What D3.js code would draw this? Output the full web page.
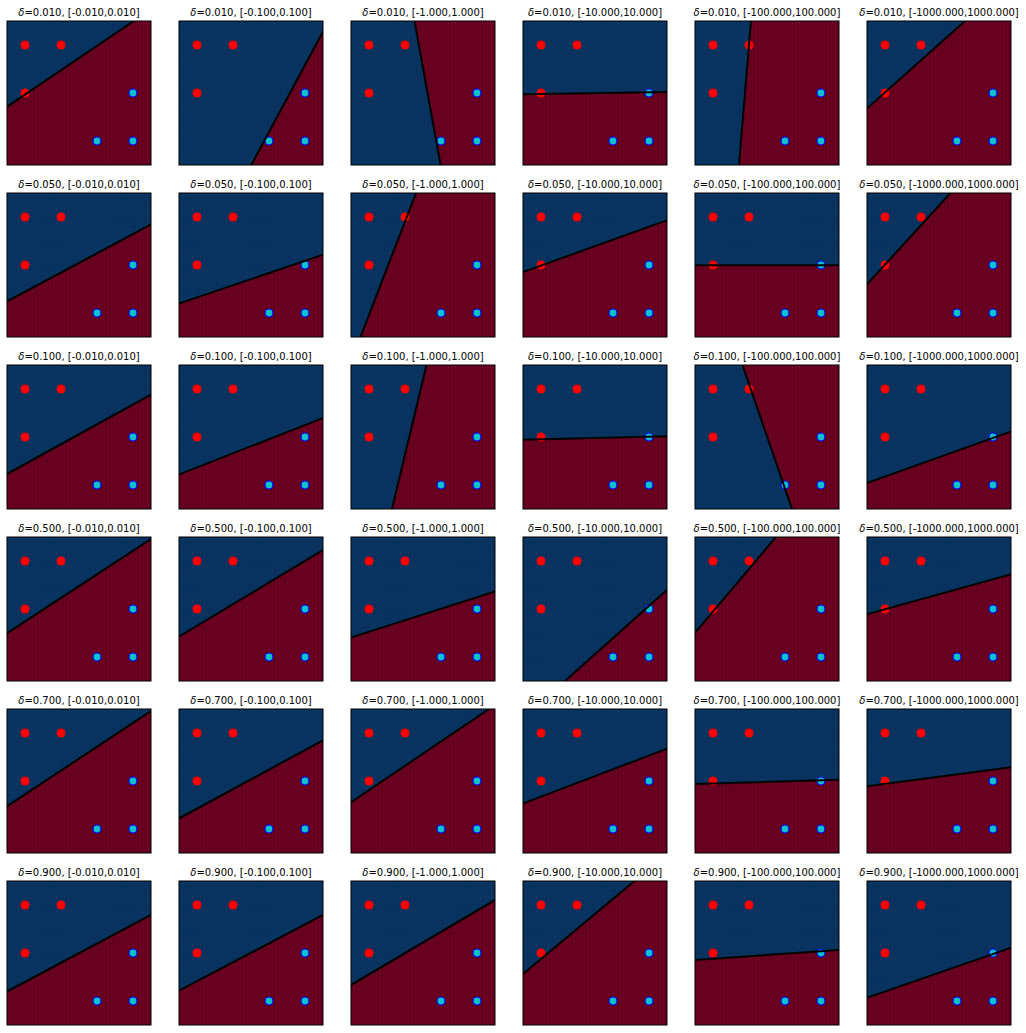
<!DOCTYPE html>
<html>
<head>
<meta charset="utf-8">
<script src="https://cdn.jsdelivr.net/npm/d3@7"></script>
<style>
  html, body { margin: 0; padding: 0; background: #ffffff; }
  svg { display: block; }
  text { font-family: "DejaVu Sans", sans-serif; }
</style>
</head>
<body>
<div id="chart"></div>
<script>
// ---------------- data ----------------
const deltas = [0.01, 0.05, 0.1, 0.5, 0.7, 0.9];          // one per row
const ranges = [0.01, 0.1, 1, 10, 100, 1000];             // one per column
const redX = [0, 1, 0];
const redY = [2, 2, 1];
const blueX = [3, 2, 3];
const blueY = [1, 0, 0];
// decision boundary per panel (row-major): two points [x1, y1, x2, y2] in data units
const boundaries = [
  [-0.5, 0.715, 3.022, 2.5],
  [1.508, -0.5, 3.5, 2.277],
  [1.264, 2.5, 1.989, -0.5],
  [-0.5, 0.973, 3.5, 1.021],
  [1.056, 2.5, 0.722, -0.5],
  [-0.5, 0.677, 2.222, 2.5],

  [-0.5, 0.240, 3.5, 1.844],
  [-0.5, 0.198, 3.5, 1.213],
  [1.306, 2.5, -0.236, -0.5],
  [-0.5, 0.854, 3.5, 1.931],
  [-0.5, 0.994, 3.5, 0.994],
  [-0.5, 0.598, 1.819, 2.5],

  [-0.5, 0.229, 3.5, 1.885],
  [-0.5, 0.219, 3.5, 1.396],
  [1.597, 2.5, 0.639, -0.5],
  [-0.5, 0.942, 3.5, 1.015],
  [0.819, 2.5, 2.194, -0.5],
  [-0.5, 0.042, 3.5, 1.115],

  [-0.5, 0.494, 3.5, 2.458],
  [-0.5, 0.423, 3.5, 2.229],
  [-0.5, 0.406, 3.5, 1.365],
  [0.667, -0.5, 3.5, 1.400],
  [-0.5, 0.506, 1.750, 2.5],
  [-0.5, 0.890, 3.5, 1.723],

  [-0.5, 0.473, 3.5, 2.458],
  [-0.5, 0.219, 3.5, 1.848],
  [-0.5, 0.556, 3.333, 2.5],
  [-0.5, 0.531, 3.5, 1.673],
  [-0.5, 0.938, 3.5, 1.027],
  [-0.5, 0.890, 3.5, 1.285],

  [-0.5, 0.198, 3.5, 1.792],
  [-0.5, 0.215, 3.5, 1.792],
  [-0.5, 0.333, 3.5, 2.104],
  [-0.5, 0.563, 2.597, 2.5],
  [-0.5, 0.854, 3.5, 1.063],
  [-0.5, 0.069, 3.5, 1.110]
];
const xDomain = [-0.5, 3.5];
const yDomain = [-0.5, 2.5];

// ---------------- layout ----------------
const W = 1026, H = 1033;
const size = 144, stepX = 172, stepY = 172, left0 = 7, top0 = 21;
const BLUE = "#08325f", RED = "#67001f";

const svg = d3.select("#chart").append("svg")
  .attr("width", W).attr("height", H);
svg.append("rect").attr("width", W).attr("height", H).attr("fill", "#fff");

const x = d3.scaleLinear().domain(xDomain).range([0, size]);
const y = d3.scaleLinear().domain(yDomain).range([size, 0]);

function clipHalf(poly, f) {
  const out = [];
  for (let i = 0; i < poly.length; i++) {
    const a = poly[i], b = poly[(i + 1) % poly.length];
    const fa = f(a), fb = f(b);
    if (fa >= 0) out.push(a);
    if ((fa >= 0) !== (fb >= 0)) {
      const t = fa / (fa - fb);
      out.push([a[0] + t * (b[0] - a[0]), a[1] + t * (b[1] - a[1])]);
    }
  }
  return out;
}

const corners = [[xDomain[0], yDomain[0]], [xDomain[1], yDomain[0]], [xDomain[1], yDomain[1]], [xDomain[0], yDomain[1]]];
const cellsX = d3.range(1, 40).map(i => xDomain[0] + i * 0.1);
const cellsY = d3.range(1, 30).map(i => yDomain[0] + i * 0.1);

deltas.forEach((delta, r) => {
  ranges.forEach((rg, c) => {
    const idx = r * ranges.length + c;
    const [x1, y1, x2, y2] = boundaries[idx];
    const g = svg.append("g")
      .attr("transform", `translate(${left0 + c * stepX},${top0 + r * stepY})`);
    const clipId = `clip${idx}`;
    g.append("clipPath").attr("id", clipId)
      .append("rect").attr("width", size).attr("height", size);
    const inner = g.append("g").attr("clip-path", `url(#${clipId})`);

    inner.append("rect").attr("width", size).attr("height", size).attr("fill", RED);
    const fRaw = p => (x2 - x1) * (p[1] - y1) - (y2 - y1) * (p[0] - x1);
    const s = Math.sign(fRaw([xDomain[0], yDomain[1]])) || 1;
    const poly = clipHalf(corners, p => s * fRaw(p));
    if (poly.length > 2) {
      inner.append("path")
        .attr("d", "M" + poly.map(p => `${x(p[0])},${y(p[1])}`).join("L") + "Z")
        .attr("fill", BLUE);
    }
    inner.selectAll(".vx").data(cellsX).join("line")
      .attr("x1", d => x(d)).attr("x2", d => x(d))
      .attr("y1", 0).attr("y2", size)
      .attr("stroke", "#ffffff").attr("stroke-opacity", 0.05).attr("stroke-width", 0.6);
    inner.selectAll(".hy").data(cellsY).join("line")
      .attr("y1", d => y(d)).attr("y2", d => y(d))
      .attr("x1", 0).attr("x2", size)
      .attr("stroke", "#000000").attr("stroke-opacity", 0.06).attr("stroke-width", 0.6);

    // points
    inner.selectAll(".red").data(redX.map((v, i) => [v, redY[i]])).join("circle")
      .attr("cx", d => x(d[0])).attr("cy", d => y(d[1])).attr("r", 4.5)
      .attr("fill", "#ff0000");
    inner.selectAll(".blue").data(blueX.map((v, i) => [v, blueY[i]])).join("circle")
      .attr("cx", d => x(d[0])).attr("cy", d => y(d[1])).attr("r", 4)
      .attr("fill", "#10c0c8").attr("stroke", "#0000ff").attr("stroke-width", 1.2);

    // decision boundary line on top
    const dx = x2 - x1, dy = y2 - y1;
    inner.append("line")
      .attr("x1", x(x1 - 10 * dx)).attr("y1", y(y1 - 10 * dy))
      .attr("x2", x(x2 + 10 * dx)).attr("y2", y(y2 + 10 * dy))
      .attr("stroke", "#000").attr("stroke-width", 2);

    g.append("rect").attr("x", 0).attr("y", 0).attr("width", size).attr("height", size)
      .attr("fill", "none").attr("stroke", "#000").attr("stroke-width", 1);

    const t = g.append("text").attr("x", size / 2).attr("y", -5)
      .attr("text-anchor", "middle").attr("font-size", 10).attr("fill", "#000");
    t.append("tspan").attr("font-style", "italic").text("δ");
    t.append("tspan").text(`=${delta.toFixed(3)}, [${(-rg).toFixed(3)},${rg.toFixed(3)}]`);
  });
});
</script>
</body>
</html>
